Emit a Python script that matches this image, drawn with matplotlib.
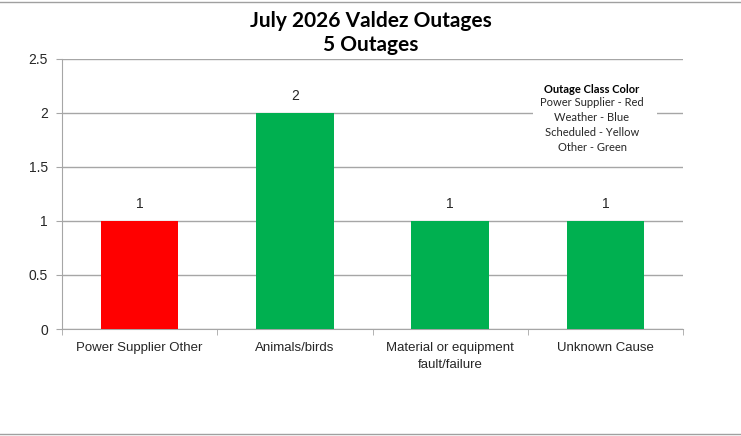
import matplotlib.pyplot as plt
from matplotlib.lines import Line2D

categories = ["Power Supplier Other", "Animals/birds",
              "Material or equipment\nfault/failure", "Unknown Cause"]
outages = [1, 2, 1, 1]
bar_colors = ["#FF0000", "#00B050", "#00B050", "#00B050"]
yticks = [0, 0.5, 1, 1.5, 2, 2.5]
ytick_labels = ["0", "0.5", "1", "1.5", "2", "2.5"]
legend_title = "Outage Class Color"
legend_lines = ["Power Supplier - Red", "Weather - Blue",
                "Scheduled - Yellow", "Other - Green"]

plt.rcParams["font.family"] = ["Liberation Sans", "DejaVu Sans"]
lato = ["Lato", "DejaVu Sans"]

fig = plt.figure(figsize=(7.41, 4.36), dpi=100)
ax = fig.add_axes([62 / 741, 107 / 436, 621 / 741, 270 / 436])

x = list(range(len(categories)))
bars = ax.bar(x, outages, width=0.5, color=bar_colors, zorder=3)
ax.bar_label(bars, padding=7, fontsize=10, color="#262626")

ax.set_xlim(-0.5, len(categories) - 0.5)
ax.set_ylim(0, 2.5)
ax.set_yticks(yticks)
ax.set_yticklabels(ytick_labels)
ax.set_xticks(x)
ax.set_xticklabels(categories, linespacing=1.6)
ax.set_xticks([i - 0.5 for i in range(len(categories) + 1)], minor=True)
ax.tick_params(axis="x", which="major", length=0, pad=9, labelsize=9.5,
               labelcolor="#262626")
ax.tick_params(axis="x", which="minor", length=4, color="#A6A6A6")
ax.tick_params(axis="y", length=4, color="#A6A6A6", labelsize=10,
               labelcolor="#262626", pad=6)

ax.grid(axis="y", color="#A6A6A6", linewidth=1, zorder=0)
for s in ["top", "right"]:
    ax.spines[s].set_visible(False)
for s in ["left", "bottom"]:
    ax.spines[s].set_color("#A6A6A6")

fig.text(0.5, 1 - 33 / 436, "July 2026 Valdez Outages\n5 Outages",
         ha="center", va="center", fontsize=15, fontweight="bold",
         family=lato, linespacing=1.25, color="black")

cx = 592 / 741
fig.text(cx, 1 - 89 / 436, legend_title, ha="center", va="center",
         fontsize=8, fontweight="bold", family=lato, zorder=6)
fig.text(cx, 1 - 125 / 436, "\n".join(legend_lines), ha="center",
         va="center", fontsize=8, family=lato,
         color="#262626", linespacing=1.42, zorder=6)
# white patch behind legend text that hides the gridline
fig.patches.append(plt.Rectangle((533 / 741, 1 - 158 / 436), 124 / 741,
                                 80 / 436, transform=fig.transFigure,
                                 facecolor="white", edgecolor="none",
                                 zorder=5))

fig.add_artist(Line2D([0, 1], [1 - 2 / 436, 1 - 2 / 436], color="#A0A0A0",
                      linewidth=1))
fig.add_artist(Line2D([0, 1], [2 / 436, 2 / 436], color="#A0A0A0",
                      linewidth=1))

fig.savefig("out.png", dpi=100)
